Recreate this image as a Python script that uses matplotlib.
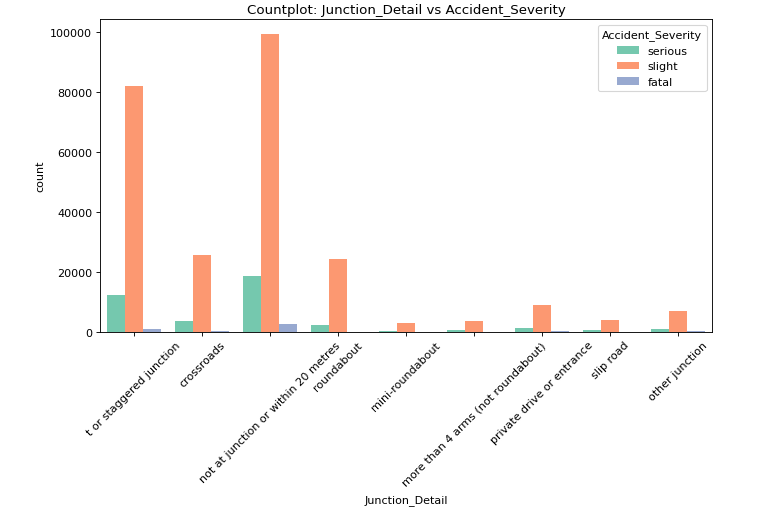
import matplotlib
matplotlib.use("Agg")
import matplotlib.pyplot as plt
import numpy as np

junctions = ["t or staggered junction", "crossroads", "not at junction or within 20 metres",
             "roundabout", "mini-roundabout", "more than 4 arms (not roundabout)",
             "private drive or entrance", "slip road", "other junction"]
severities = ["serious", "slight", "fatal"]
serious = [12300, 3600, 18700, 2200, 300, 500, 1300, 600, 1100]
slight = [82000, 25700, 99200, 24300, 3000, 3500, 9000, 3800, 7000]
fatal = [900, 300, 2600, 100, 20, 50, 200, 100, 150]
colors = ["#66c2a5", "#fc8d62", "#8da0cb"]

fig = plt.figure(figsize=(7.81 / 0.8, 5.12 / 0.8), dpi=80)
ax = fig.add_axes([0.128, 0.35, 0.784, 0.61])
x = np.arange(len(junctions))
w = 0.8 / 3
for i, (name, vals) in enumerate(zip(severities, [serious, slight, fatal])):
    ax.bar(x + (i - 1) * w, vals, w, color=colors[i], alpha=0.9, label=name)
ax.set_xticks(x)
ax.set_xticklabels(junctions, rotation=45)
ax.set_xlim(-0.5, len(junctions) - 0.5)
ax.set_xlabel("Junction_Detail")
ax.xaxis.set_label_coords(0.5, -0.52)
ax.set_ylabel("count")
ax.set_title("Countplot: Junction_Detail vs Accident_Severity")
ax.legend(title="Accident_Severity", loc="upper right")
fig.savefig("out.png", dpi=80)
